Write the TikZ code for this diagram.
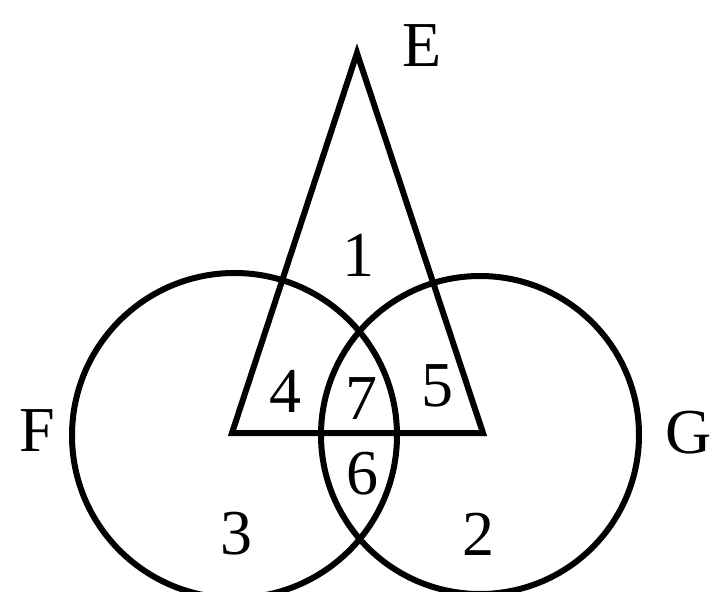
\documentclass[tikz,border=0pt]{standalone}
\usepackage{fontspec}
\setmainfont{Liberation Serif}
\begin{document}
\begin{tikzpicture}[x=1pt,y=-1pt,
  shapeline/.style={line width=6pt,line join=miter},
  lbl/.style={font=\fontsize{64}{72}\selectfont,inner sep=0pt,anchor=center}]
\useasboundingbox (0,0) rectangle (716,592);
\coordinate (cF) at (234.5,435.5);
\coordinate (cG) at (480,435);
\coordinate (tA) at (357,53);
\coordinate (tL) at (232,433);
\coordinate (tR) at (483,433);
\draw[shapeline] (cF) circle[radius=162.5];
\draw[shapeline] (cG) circle[radius=159];
\draw[shapeline] (tL) -- (tA) -- (tR) -- cycle;
\node[lbl] (E) at (422,46) {E};
\node[lbl] (F) at (37,431) {F};
\node[lbl] (G) at (689,433) {G};
\node[lbl] (n1) at (358,255) {1};
\node[lbl] (n4) at (285,391) {4};
\node[lbl] (n7) at (361,399) {7};
\node[lbl] (n5) at (437,386) {5};
\node[lbl] (n6) at (362,474) {6};
\node[lbl] (n3) at (236,534) {3};
\node[lbl] (n2) at (478,534) {2};
\end{tikzpicture}
\end{document}
